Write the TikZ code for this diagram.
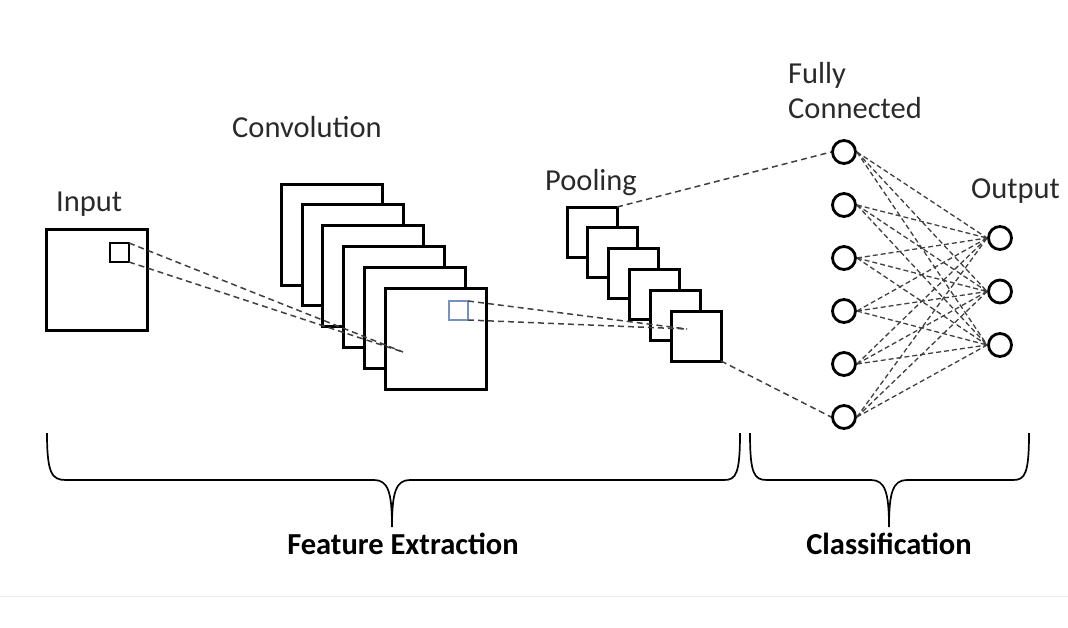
\documentclass[tikz,border=0pt]{standalone}
\usepackage{fontspec}
\setmainfont{Carlito}
\definecolor{labelgray}{HTML}{2A2A2A}
\definecolor{linegray}{HTML}{404040}
\definecolor{boxblue}{HTML}{7592C2}
\begin{document}
\begin{tikzpicture}[x=1pt,y=-1pt,
  lbl/.style={font=\fontsize{30.5}{36}\selectfont, text=labelgray, inner sep=0, anchor=base west},
  blbl/.style={font=\fontsize{30.5}{36}\selectfont\bfseries, text=black, inner sep=0, anchor=base},
  sq/.style={draw=black, fill=white, line width=3pt, inner sep=0, outer sep=0, anchor=north west},
  smallsq/.style={draw=black, line width=1.6pt, inner sep=0, outer sep=0, anchor=north west, minimum size=19pt},
  neuron/.style={circle, draw=black, line width=2.8pt, fill=white, minimum size=23pt, inner sep=0},
  dl/.style={draw=linegray, line width=1.5pt, dash pattern=on 6pt off 4pt},
  fcl/.style={draw=linegray, line width=1.3pt, dash pattern=on 5pt off 3pt},
  brace/.style={draw=black, line width=1.7pt}]
\useasboundingbox (0,0) rectangle (1068,627);

% input
\node[sq, minimum size=101pt] (in) at (46,229) {};
\node[smallsq] (ink) at (110,243) {};
\node[lbl] (inl) at (56,211) {Input};

% convolution stack
\foreach \k in {0,...,5}
  \node[sq, minimum size=101pt] (c\k) at ({281.5+20.7*\k},{184+20.8*\k}) {};
\node[smallsq, draw=boxblue] (ck) at (449,301) {};
\node[lbl] (convl) at (232,137) {Convolution};
\coordinate (cfocus) at (403,352);
\draw[dl] (ink.north east) -- (cfocus);
\draw[dl] (ink.south east) -- (cfocus);

% pooling stack
\foreach \k in {0,...,5}
  \node[sq, minimum size=50pt] (p\k) at ({567+20.8*\k},{207+20.8*\k}) {};
\node[lbl] (pooll) at (545,190) {Pooling};
\coordinate (pfocus) at (687,329);
\draw[dl] (ck.north east) -- (pfocus);
\draw[dl] (ck.south east) -- (pfocus);

% fully connected and output
\foreach \i/\y in {1/152,2/205,3/258,4/311,5/364,6/417}
  \node[neuron] (f\i) at (844,\y) {};
\foreach \j/\y in {1/238,2/291.5,3/345}
  \node[neuron] (o\j) at (1000,\y) {};
\foreach \i in {1,...,6}
  \foreach \j in {1,2,3}
    \draw[fcl] (f\i.east) -- (o\j.west);
\draw[dl] (p0.north east) -- (f1.west);
\draw[dl] (p5.south east) -- (f6.west);
\node[lbl] (fully) at (788,83) {Fully};
\node[lbl] (conn) at (788,118) {Connected};
\node[lbl] (outl) at (971,198) {Output};

% braces
\draw[brace] (47,433) .. controls (47,474) and (52,480) .. (66,480)
  -- (374,480) .. controls (388,480) and (392,492) .. (392,527)
  .. controls (392,492) and (396,480) .. (410,480)
  -- (724,480) .. controls (736,480) and (740,474) .. (740,433);
\draw[brace] (750,433) .. controls (750,474) and (754,480) .. (767,480)
  -- (871,480) .. controls (885,480) and (889,492) .. (889,527)
  .. controls (889,492) and (893,480) .. (907,480)
  -- (1013,480) .. controls (1025,480) and (1029,474) .. (1029,433);
\node[blbl] (fe) at (403,554) {Feature Extraction};
\node[blbl] (cls) at (889,554) {Classification};

% separator line
\draw[draw=black!8, line width=1pt] (0,596) -- (1068,596);
\end{tikzpicture}
\end{document}
